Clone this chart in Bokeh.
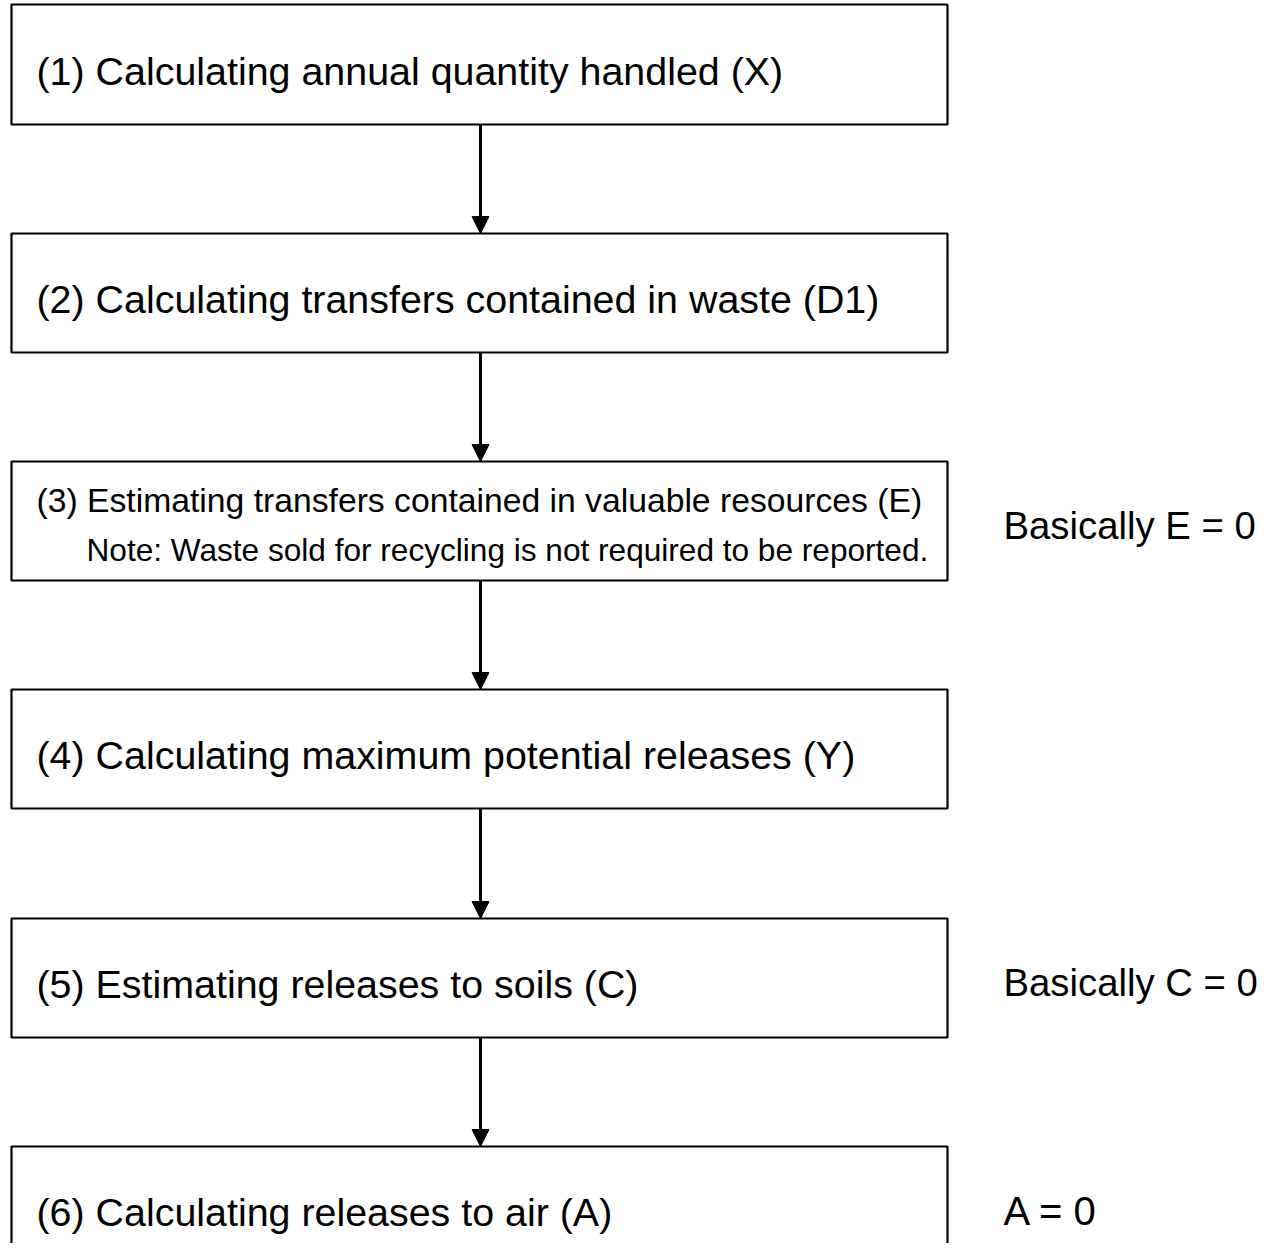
from bokeh.plotting import figure
from bokeh.models import Range1d, Arrow, NormalHead
from bokeh.core.properties import value
from bokeh.embed import file_html
from bokeh.resources import INLINE

# ---- content ----
steps = [
    "(1) Calculating annual quantity handled (X)",
    "(2) Calculating transfers contained in waste (D1)",
    "(3) Estimating transfers contained in valuable resources (E)",
    "(4) Calculating maximum potential releases (Y)",
    "(5) Estimating releases to soils (C)",
    "(6) Calculating releases to air (A)",
]
step_notes = ["", "", "Note: Waste sold for recycling is not required to be reported.", "", "", ""]
side_labels = ["", "", "Basically E = 0", "", "Basically C = 0", "A = 0"]

# ---- layout (image pixel coordinates) ----
box_left, box_right = 11, 947
box_tops = [4, 233, 461, 689, 918, 1146]
box_bottoms = [124, 352, 580, 808, 1037, 1290]
arrow_x = 480
FONT = "Liberation Sans"

p = figure(width=1262, height=1243, output_backend="svg", toolbar_location=None,
           x_range=Range1d(0, 1262), y_range=Range1d(1243, 0),
           min_border=0, outline_line_color=None)
p.axis.visible = False
p.grid.visible = False

p.quad(left=[box_left] * 6, right=[box_right] * 6, top=box_tops, bottom=box_bottoms,
       fill_color="white", line_color="black", line_width=2.2)

for i in range(5):
    p.add_layout(Arrow(end=NormalHead(size=17, fill_color="black", line_color="black"),
                       x_start=arrow_x, y_start=box_bottoms[i], x_end=arrow_x, y_end=box_tops[i + 1],
                       line_width=3, line_color="black"))

for i, s in enumerate(steps):
    if step_notes[i]:
        p.text(x=[36], y=[499], text=[s], text_font=value(FONT), text_font_size="33.7px",
               text_baseline="middle", text_align="left", text_color="black")
        p.text(x=[86], y=[549], text=[step_notes[i]], text_font=value(FONT), text_font_size="31.6px",
               text_baseline="middle", text_align="left", text_color="black")
    else:
        cy = (box_tops[i] + box_bottoms[i]) / 2 + 6 if i != 5 else 1211
        p.text(x=[36], y=[cy], text=[s], text_font=value(FONT),
               text_font_size="39.4px", text_baseline="middle", text_align="left", text_color="black")

side_y = [0, 0, 525, 0, 982, 1210]
for i, lab in enumerate(side_labels):
    if lab:
        p.text(x=[1003], y=[side_y[i]], text=[lab], text_font=value(FONT),
               text_font_size="38.3px" if i != 5 else "40px",
               text_baseline="middle", text_align="left", text_color="black")

open("out.html", "w").write(file_html(p, INLINE))
